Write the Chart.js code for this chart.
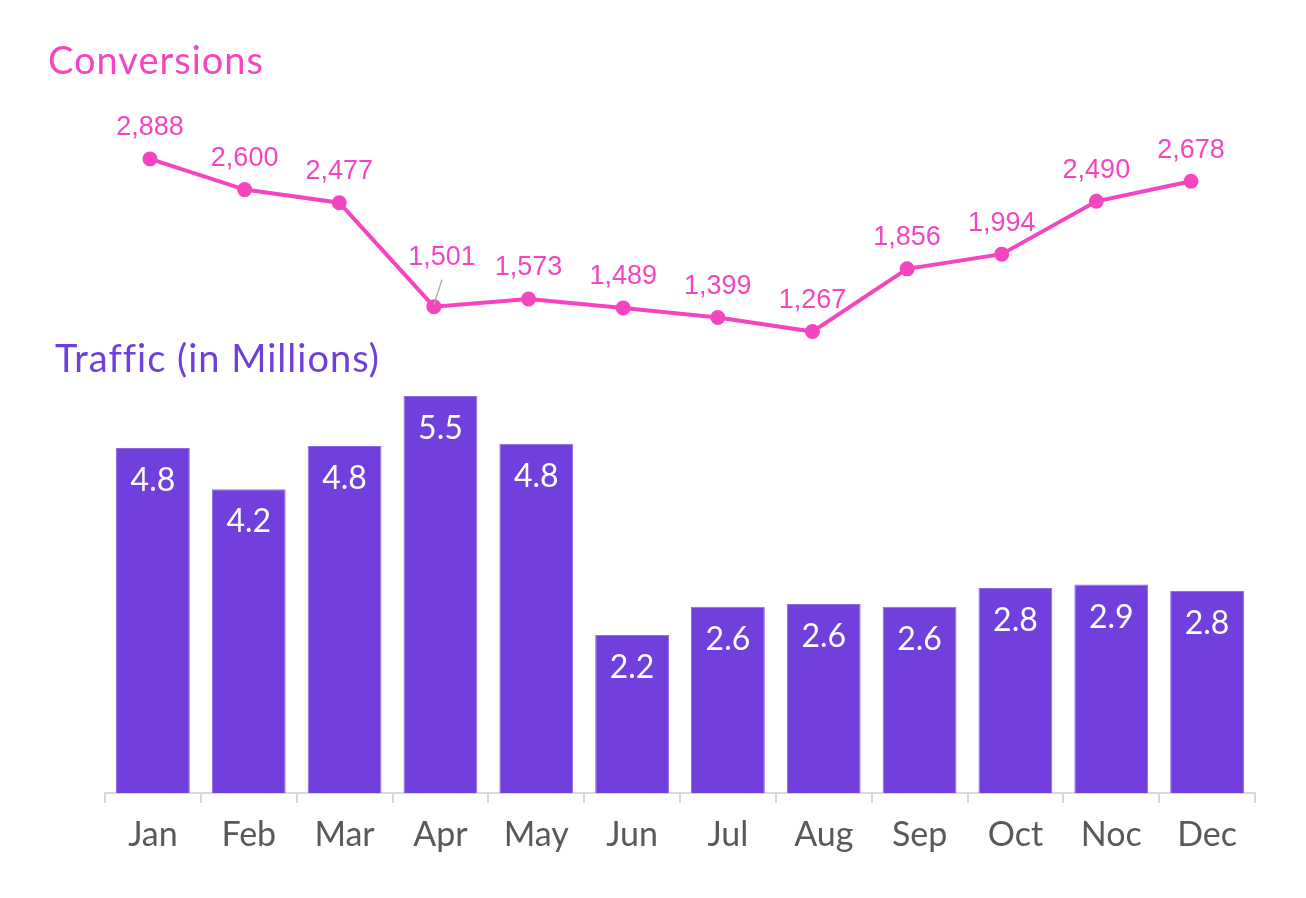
<!DOCTYPE html>
<html>
<head>
<meta charset="utf-8">
<script src="https://cdn.jsdelivr.net/npm/chart.js@4"></script>
<style>
  html, body { margin: 0; padding: 0; background: #fff; }
  body { width: 1306px; height: 898px; position: relative; overflow: hidden; font-family: Lato, "Open Sans", sans-serif; }
  .titulo { position: absolute; font-size: 38px; line-height: 1; letter-spacing: 1px; white-space: nowrap; }
  #t-conv { left: 48px; top: 40px; color: #f544c0; }
  #t-traf { left: 55px; top: 338px; color: #6f3fdc; }
  #linha-wrap { position: absolute; left: 0; top: 0; width: 1306px; height: 400px; }
  #barra-wrap { position: absolute; left: 0; top: 330px; width: 1306px; height: 568px; }
</style>
</head>
<body>
<div id="linha-wrap"><canvas id="linhaChart"></canvas></div>
<div id="barra-wrap"><canvas id="barraChart"></canvas></div>
<div class="titulo" id="t-conv">Conversions</div>
<div class="titulo" id="t-traf">Traffic (in Millions)</div>
<script>
// dados
const meses = ['Jan', 'Feb', 'Mar', 'Apr', 'May', 'Jun', 'Jul', 'Aug', 'Sep', 'Oct', 'Noc', 'Dec'];
const conversoes = [2888, 2600, 2477, 1501, 1573, 1489, 1399, 1267, 1856, 1994, 2490, 2678];
const trafego = [4.78, 4.21, 4.81, 5.5, 4.84, 2.19, 2.58, 2.62, 2.58, 2.84, 2.89, 2.80];

const ROSA = '#f544c0';
const ROXO = '#7140dc';

// rótulos acima dos pontos da linha (Apr sobe com linha-guia)
const rotulosLinha = {
    id: 'rotulosLinha',
    afterDatasetsDraw(chart) {
        const ctx = chart.ctx;
        const meta = chart.getDatasetMeta(0);
        ctx.save();
        ctx.font = '27px "Liberation Sans", Arial, sans-serif';
        ctx.fillStyle = ROSA;
        ctx.textAlign = 'center';
        ctx.textBaseline = 'middle';
        meta.data.forEach((pt, i) => {
            const txt = conversoes[i].toLocaleString('en-US');
            if (meses[i] === 'Apr') {
                ctx.strokeStyle = '#a6a6a6';
                ctx.lineWidth = 1.3;
                ctx.beginPath();
                ctx.moveTo(pt.x + 8, pt.y - 27);
                ctx.lineTo(pt.x, pt.y - 2);
                ctx.stroke();
                ctx.fillText(txt, pt.x + 8, pt.y - 49);
            } else {
                ctx.fillText(txt, pt.x, pt.y - 31);
            }
        });
        ctx.restore();
    }
};

// valores dentro do topo das barras
const rotulosBarra = {
    id: 'rotulosBarra',
    afterDatasetsDraw(chart) {
        const ctx = chart.ctx;
        const meta = chart.getDatasetMeta(0);
        ctx.save();
        ctx.font = '32px Lato, sans-serif';
        ctx.fillStyle = '#ffffff';
        ctx.textAlign = 'center';
        ctx.textBaseline = 'middle';
        meta.data.forEach((bar, i) => {
            ctx.fillText(trafego[i].toFixed(1), bar.x, bar.y + 33);
        });
        ctx.restore();
    }
};

new Chart(document.getElementById('linhaChart'), {
    type: 'line',
    data: {
        labels: meses,
        datasets: [{
            data: conversoes,
            borderColor: ROSA,
            backgroundColor: ROSA,
            borderWidth: 4,
            pointRadius: 5.5,
            pointHoverRadius: 5.5,
            tension: 0,
            clip: false
        }]
    },
    options: {
        responsive: true,
        maintainAspectRatio: false,
        animation: false,
        layout: { padding: { left: 150, right: 115, top: 147, bottom: 40 } },
        plugins: { legend: { display: false }, tooltip: { enabled: false } },
        scales: {
            x: { display: false },
            y: { display: false, min: 1000, max: 3000 }
        }
    },
    plugins: [rotulosLinha]
});

new Chart(document.getElementById('barraChart'), {
    type: 'bar',
    data: {
        labels: meses,
        datasets: [{
            data: trafego,
            backgroundColor: ROXO,
            borderColor: '#8e6ae8',
            borderWidth: 1,
            categoryPercentage: 1,
            barPercentage: 0.77
        }]
    },
    options: {
        responsive: true,
        maintainAspectRatio: false,
        animation: false,
        layout: { padding: { left: 105, right: 51, top: 30, bottom: 0 } },
        plugins: { legend: { display: false }, tooltip: { enabled: false } },
        scales: {
            x: {
                grid: { drawOnChartArea: false, color: '#d9d9d9', lineWidth: 2, tickLength: 10 },
                border: { color: '#d9d9d9', width: 2 },
                ticks: { color: '#595959', font: { family: 'Lato', size: 34 }, padding: 12 },
                afterFit(scale) { scale.height = 105; }
            },
            y: { display: false, min: 0, max: 6 }
        }
    },
    plugins: [rotulosBarra]
});
</script>
</body>
</html>
